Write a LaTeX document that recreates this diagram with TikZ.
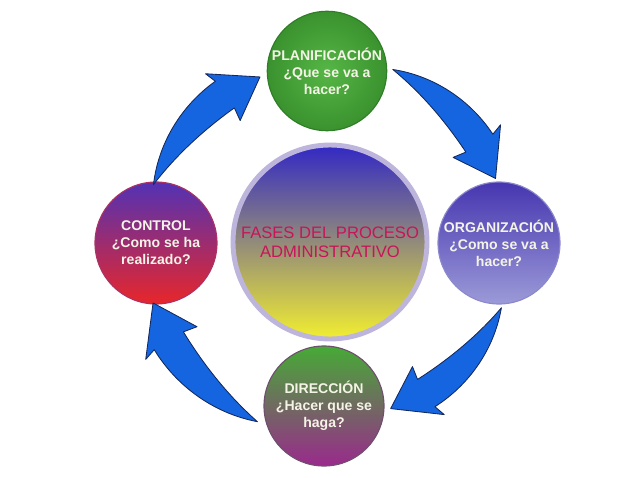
\documentclass[tikz,border=0pt]{standalone}
\usepackage{fontspec}
\setsansfont{Liberation Sans}
\definecolor{azulflecha}{HTML}{1565E0}
\definecolor{bordeflecha}{HTML}{14285A}
\definecolor{textoclaro}{HTML}{F4F4E6}
\definecolor{textocentro}{HTML}{C8145A}
\definecolor{bordecentro}{HTML}{BDB5DC}

\begin{document}
\begin{tikzpicture}[
    fase/.style={circle, inner sep=0pt, align=center, text=textoclaro,
        font=\sffamily\bfseries\fontsize{10}{12}\selectfont, line width=0.8pt},
    flecha/.style={fill=azulflecha, draw=bordeflecha, line width=0.6pt, line join=round}
]
\useasboundingbox (-8.25,-5.875) rectangle (7.75,6.05);

\node[circle, inner sep=0pt, minimum size=4.85cm, draw=bordecentro, line width=3.5pt,
      top color={rgb,255:red,50;green,40;blue,196}, middle color={rgb,255:red,140;green,132;blue,160},
      bottom color={rgb,255:red,242;green,238;blue,48},
      align=center, text=textocentro, font=\sffamily\fontsize{11.8}{13.4}\selectfont]
    (fases) at (0,0) {FASES DEL PROCESO\\ADMINISTRATIVO};

% las cuatro fases
\node[fase, minimum size=2.85cm, draw={rgb,255:red,47;green,125;blue,38},
      inner color={rgb,255:red,86;green,182;blue,70}, outer color={rgb,255:red,58;green,146;blue,46}]
    (plan) at (-0.075,4.275) {PLANIFICACIÓN\\¿Que se va a\\hacer?};
\node[fase, minimum size=3.05cm, draw={rgb,255:red,140;green,136;blue,204},
      top color={rgb,255:red,70;green,54;blue,176}, bottom color={rgb,255:red,156;green,154;blue,216}]
    (org) at (4.225,-0.025) {ORGANIZACIÓN\\¿Como se va a\\hacer?};
\node[fase, minimum size=3cm, draw={rgb,255:red,110;green,80;blue,110},
      top color={rgb,255:red,70;green,170;blue,54}, bottom color={rgb,255:red,154;green,42;blue,140}]
    (dir) at (-0.15,-4.1) {DIRECCIÓN\\¿Hacer que se\\haga?};
\node[fase, minimum size=3.05cm, draw={rgb,255:red,170;green,50;blue,100},
      top color={rgb,255:red,82;green,50;blue,180}, bottom color={rgb,255:red,232;green,38;blue,42}]
    (ctrl) at (-4.35,-0.025) {CONTROL\\¿Como se ha\\realizado?};

% flechas alrededor del circulo central
\begin{scope}[shift={(fases.center)}]
\foreach \a/\r in {162/4.55, 70/4.5, -21/4.5, -112/4.75}
    \filldraw[flecha] plot[smooth, domain=0:36.5, samples=16]
            ({\a-\x}:{\r*(1.02+0.065*(\x/36.5)*(2-\x/36.5))})
        -- ({\a-35.5}:{\r*1.15}) -- ({\a-49}:{\r*0.985}) -- ({\a-35.5}:{\r*0.83})
        -- plot[smooth, domain=36.5:0, samples=16]
            ({\a-\x}:{\r*(1.02-0.115*(\x/36.5)*(2-\x/36.5))}) -- cycle;
\end{scope}
\end{tikzpicture}
\end{document}
